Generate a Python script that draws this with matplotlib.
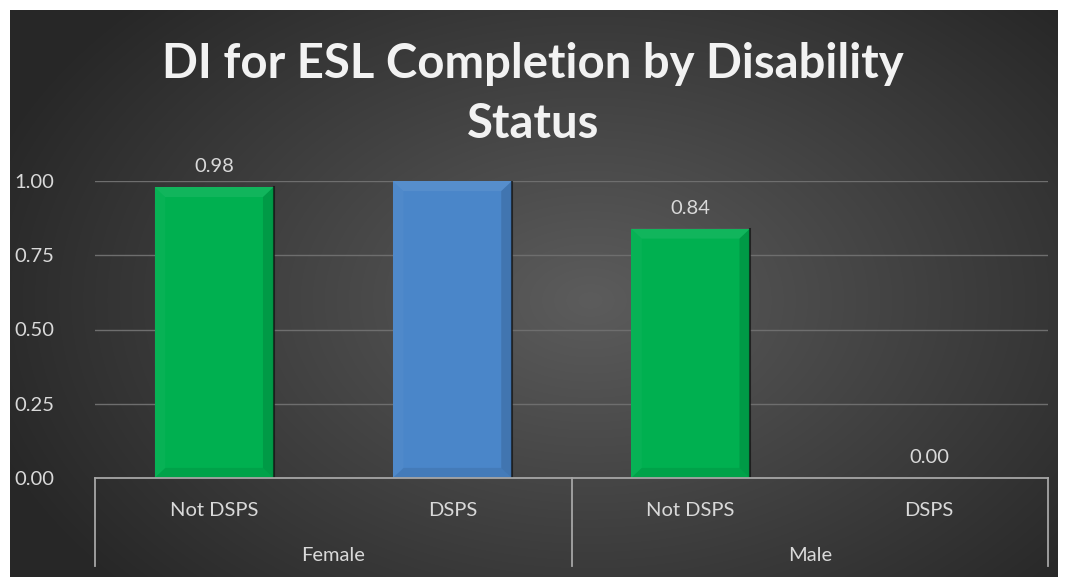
import matplotlib.pyplot as plt
import numpy as np
from matplotlib.patches import Polygon
from matplotlib.transforms import blended_transform_factory

# Data
groups = ['Female', 'Male']
categories = ['Not DSPS', 'DSPS', 'Not DSPS', 'DSPS']
values = [0.98, 1.21, 0.84, 0.00]
bar_colors = ['#00b050', '#4a86c9', '#00b050', '#00b050']
yticks = [0.00, 0.25, 0.50, 0.75, 1.00]

plt.rcParams['font.family'] = ['Lato', 'DejaVu Sans']
txt = '#d9d9d9'
fs = 14.5

W, H = 1066, 577
fig = plt.figure(figsize=(W / 100, H / 100), dpi=100)
fig.patch.set_facecolor('white')

# dark radial gradient background
bg = fig.add_axes([10 / W, 0, 1048 / W, 567 / H])
bg.set_axis_off()
yy, xx = np.mgrid[0:567, 0:1048]
r = np.sqrt(((xx - 580) / 640) ** 2 + ((yy - 290) / 430) ** 2)
r = np.clip(r, 0, 1)
c0, c1 = np.array([0x5c, 0x5c, 0x5c]) / 255, np.array([0x27, 0x27, 0x27]) / 255
img = c0[None, None, :] * (1 - r[..., None]) + c1[None, None, :] * r[..., None]
bg.imshow(img, aspect='auto', extent=[0, 1, 0, 1], origin='upper')
bg.set_xlim(0, 1)
bg.set_ylim(0, 1)

# plot area
ax = fig.add_axes([95 / W, 99 / H, (1048 - 95) / W, (478 - 181) / H])
ax.patch.set_alpha(0)
x = np.arange(len(categories))
bars = ax.bar(x, values, width=0.5, color=bar_colors, zorder=3)
ax.set_xlim(-0.5, len(categories) - 0.5)
ax.set_ylim(0, 1)
ax.set_yticks(yticks)
ax.set_yticklabels([f'{v:.2f}' for v in yticks], color=txt, fontsize=fs)
ax.tick_params(axis='y', length=0, pad=58)
for lab in ax.get_yticklabels():
    lab.set_horizontalalignment('left')
ax.set_xticks([])
ax.grid(axis='y', color='#6e6e6e', lw=1, zorder=0)
for s in ['top', 'right', 'left']:
    ax.spines[s].set_visible(False)
ax.spines['bottom'].set_color('#a6a6a6')
ax.spines['bottom'].set_linewidth(1.3)
ax.spines['bottom'].set_zorder(5)

# bevel effect on bars
bx, by = 0.045, 0.034
for b in bars:
    x0, w, h = b.get_x(), b.get_width(), b.get_height()
    if h <= 0:
        continue
    top = min(h, 1.0)
    x1 = x0 + w
    bev = [
        ([(x0, top), (x1, top), (x1 - bx, top - by), (x0 + bx, top - by)], 'white', 0.07),
        ([(x1, top), (x1, 0), (x1 - bx, by), (x1 - bx, top - by)], 'black', 0.12),
        ([(x0, 0), (x1, 0), (x1 - bx, by), (x0 + bx, by)], 'black', 0.08),
        ([(x0, top), (x0, 0), (x0 + bx, by), (x0 + bx, top - by)], 'white', 0.03),
    ]
    for pts, col, a in bev:
        ax.add_patch(Polygon(pts, closed=True, facecolor=col, alpha=a, lw=0, zorder=4))
    ax.plot([x1, x1], [0, top], color='#111111', lw=1.5, alpha=0.7, zorder=4)

# data labels
for xi, v in zip(x, values):
    if v <= 1.0:
        ax.text(xi, v + 0.04, f'{v:.2f}', ha='center', va='bottom', color=txt, fontsize=fs)

# two-level category axis
tr = blended_transform_factory(ax.transData, ax.transAxes)
for xs in [-0.5, 1.5, 3.5]:
    ax.plot([xs, xs], [0, -0.295], color='#a6a6a6', lw=1.3, transform=tr, clip_on=False)
for xi, c in zip(x, categories):
    ax.text(xi, -0.108, c, ha='center', va='center', color=txt, fontsize=fs, transform=tr)
for gi, g in enumerate(groups):
    ax.text(gi * 2 + 0.5, -0.26, g, ha='center', va='center', color=txt, fontsize=fs, transform=tr)

fig.text(0.5, 1 - 64 / H, 'DI for ESL Completion by Disability', ha='center', va='center',
         color='#f2f2f2', fontsize=34, fontweight='bold')
fig.text(0.5, 1 - 124 / H, 'Status', ha='center', va='center',
         color='#f2f2f2', fontsize=34, fontweight='bold')

fig.savefig('out.png', dpi=100, facecolor=fig.get_facecolor())
